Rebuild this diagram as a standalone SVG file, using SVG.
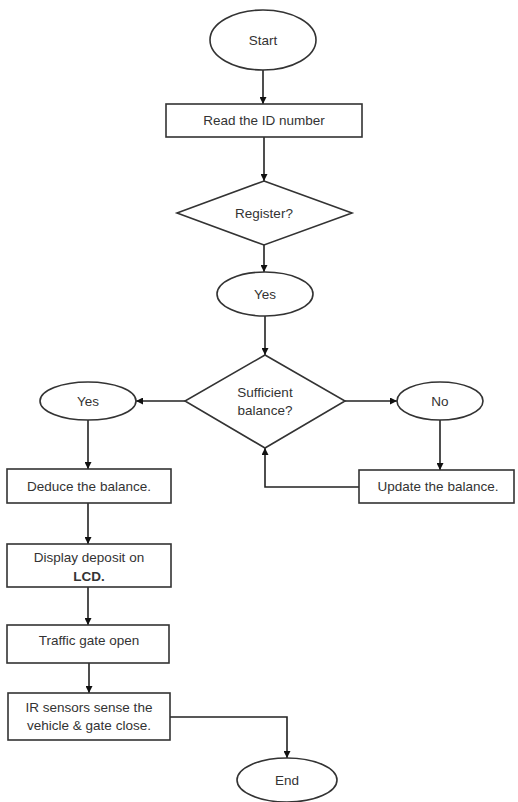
<svg xmlns="http://www.w3.org/2000/svg" width="518" height="802" viewBox="0 0 518 802">
<style>
.s{fill:#fff;stroke:#333;stroke-width:1.6}
.c{fill:none;stroke:#222;stroke-width:1.6}
text{font-family:"Liberation Sans",Arial,sans-serif;font-size:13.5px;fill:#333;text-anchor:middle}
.b{font-weight:bold}
</style>
<defs>
<marker id="ah" viewBox="0 0 10 10" refX="10" refY="5" markerWidth="7" markerHeight="7" markerUnits="userSpaceOnUse" orient="auto">
<path d="M0,0 L10,5 L0,10 z" fill="#111"/>
</marker>
</defs>
<rect width="518" height="802" fill="#fff"/>
<g id="connectors">
<line class="c" x1="263" y1="70" x2="263" y2="104" marker-end="url(#ah)"/>
<line class="c" x1="264" y1="137" x2="264" y2="181" marker-end="url(#ah)"/>
<line class="c" x1="264" y1="245" x2="264" y2="272" marker-end="url(#ah)"/>
<line class="c" x1="265" y1="316" x2="265" y2="355" marker-end="url(#ah)"/>
<line class="c" x1="185" y1="401" x2="136" y2="401" marker-end="url(#ah)"/>
<line class="c" x1="345" y1="401" x2="397" y2="401" marker-end="url(#ah)"/>
<line class="c" x1="88" y1="420" x2="88" y2="469" marker-end="url(#ah)"/>
<line class="c" x1="440" y1="420" x2="440" y2="470" marker-end="url(#ah)"/>
<polyline class="c" points="359,487 265,487 265,448" marker-end="url(#ah)"/>
<line class="c" x1="88" y1="503" x2="88" y2="544" marker-end="url(#ah)"/>
<line class="c" x1="88" y1="587" x2="88" y2="625" marker-end="url(#ah)"/>
<line class="c" x1="89" y1="663" x2="89" y2="693" marker-end="url(#ah)"/>
<polyline class="c" points="170,717 287,717 287,758" marker-end="url(#ah)"/>
</g>
<g id="start"><ellipse class="s" cx="263" cy="40" rx="53" ry="30"/><text x="263" y="45">Start</text></g>
<g id="read"><rect class="s" x="166" y="104" width="196" height="33"/><text x="264" y="125">Read the ID number</text></g>
<g id="register"><polygon class="s" points="264,181 352,213 264,245 177,213"/><text x="264" y="218">Register?</text></g>
<g id="yes1"><ellipse class="s" cx="265" cy="294" rx="48" ry="22"/><text x="265" y="299">Yes</text></g>
<g id="sufficient"><polygon class="s" points="265,355 345,401 265,448 185,401"/><text x="265" y="397">Sufficient</text><text x="265" y="415">balance?</text></g>
<g id="yes2"><ellipse class="s" cx="88" cy="401" rx="48" ry="19"/><text x="88" y="406">Yes</text></g>
<g id="no"><ellipse class="s" cx="440" cy="401" rx="43" ry="19"/><text x="440" y="406">No</text></g>
<g id="deduce"><rect class="s" x="7" y="469" width="164" height="34"/><text x="89" y="491">Deduce the balance.</text></g>
<g id="update"><rect class="s" x="359" y="470" width="155" height="33"/><text x="438" y="491">Update the balance.</text></g>
<g id="display"><rect class="s" x="7" y="544" width="164" height="43"/><text x="89" y="562">Display deposit on</text><text class="b" x="89" y="581">LCD.</text></g>
<g id="traffic"><rect class="s" x="7" y="625" width="162" height="38"/><text x="89" y="645">Traffic gate open</text></g>
<g id="ir"><rect class="s" x="8" y="693" width="162" height="47"/><text x="89" y="712">IR sensors sense the</text><text x="89" y="730">vehicle &amp; gate close.</text></g>
<g id="end"><ellipse class="s" cx="287" cy="780" rx="50" ry="22"/><text x="287" y="785">End</text></g>
</svg>
